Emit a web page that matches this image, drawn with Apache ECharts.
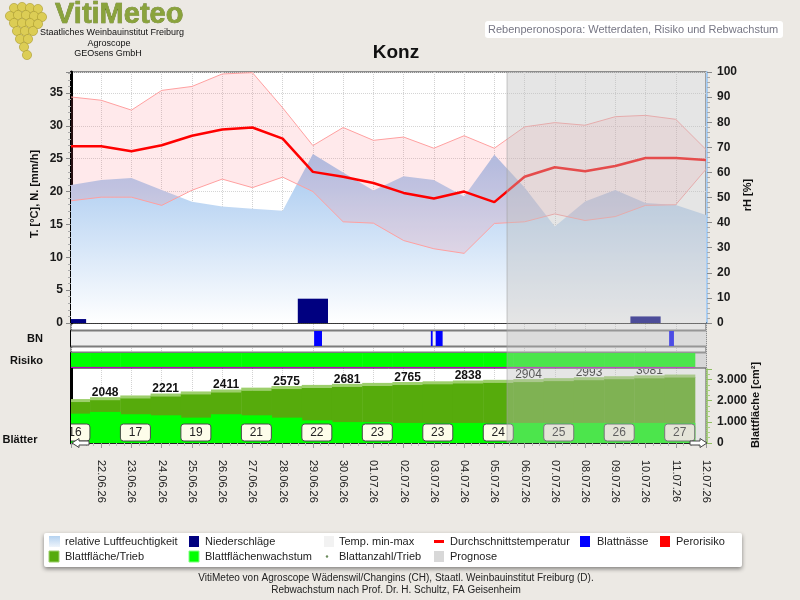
<!DOCTYPE html>
<html>
<head>
<meta charset="utf-8">
<title>Konz</title>
<script src="https://cdn.jsdelivr.net/npm/echarts@6/dist/echarts.min.js"></script>
<style>
html,body{margin:0;padding:0;background:#ece9e4;}
#chart{width:800px;height:600px;}
</style>
</head>
<body>
<div id="chart"></div>
<script>
// Tage 21.06.26 .. 12.07.26 (Index 0..21)
var dates = ['21.06.26','22.06.26','23.06.26','24.06.26','25.06.26','26.06.26','27.06.26','28.06.26','29.06.26','30.06.26',
             '01.07.26','02.07.26','03.07.26','04.07.26','05.07.26','06.07.26','07.07.26','08.07.26','09.07.26','10.07.26','11.07.26','12.07.26'];
// relative Luftfeuchtigkeit [%]
var rh    = [55, 57, 57.8, 53, 48.3, 46.4, 45.5, 44.7, 67.3, 60, 52.8, 58.5, 57, 50.4, 67, 54, 38.4, 48.4, 53, 47.8, 47, 43];
// Temperatur [°C]
var tMean = [26.9, 26.9, 26.15, 27.05, 28.5, 29.45, 29.75, 28.05, 23.0, 22.25, 21.3, 19.8, 18.95, 20.0, 18.4, 22.25, 23.7, 23.1, 23.9, 25.1, 25.1, 24.8];
var tMax  = [34.4, 33.9, 32.4, 35.4, 36.0, 37.9, 38.1, 32.75, 27.0, 29.75, 27.8, 28.3, 26.6, 28.5, 26.6, 29.85, 30.5, 30.1, 31.4, 31.6, 31.0, 26.4];
var tMin  = [18.6, 19.15, 19.15, 17.9, 20.2, 21.9, 20.6, 22.2, 20.0, 15.4, 15.2, 12.55, 11.3, 10.6, 15.15, 15.4, 16.6, 15.6, 16.2, 17.9, 18.0, 23.4];
// Niederschläge [mm/h]
var rain  = [0.6, 0, 0, 0, 0, 0, 0, 0, 3.7, 0, 0, 0, 0, 0, 0, 0, 0, 0, 0, 1.0, 0, 0];
// Blattnässe: Zeitraeume [von, bis] in Tagen
var bnIntervals = [[8.04, 8.30], [11.90, 11.96], [12.06, 12.29], [19.78, 19.94]];
// Perorisiko pro Tag (0 = kein Risiko)
var risk = [0, 0, 0, 0, 0, 0, 0, 0, 0, 0, 0, 0, 0, 0, 0, 0, 0, 0, 0, 0, 0];
// Blattfläche/Trieb [cm²] pro Tag
var leafArea = [1960, 2048, 2130, 2221, 2320, 2411, 2500, 2575, 2630, 2681, 2725, 2765, 2800, 2838, 2870, 2904, 2950, 2993, 3040, 3081, 3120];
// Blattflächenwachstum pro Tag
var leafGrowth = [139, 147, 136, 131, 120, 136, 131, 120, 107, 99, 99, 95, 95, 95, 95, 95, 95, 95, 95, 95, 95];
// Blattanzahl/Trieb
var leafCountDays = [0, 2, 4, 6, 8, 10, 12, 14, 16, 18, 20];
var leafCount     = [16, 17, 19, 21, 22, 23, 23, 24, 25, 26, 27];
// Beginn der Prognose (Tag)
var prognosisStart = 14.42;
var riskColors = ['#00ff00', '#ffff00', '#ff0000'];

var FONT = '"Liberation Sans", Arial, sans-serif';
var xMax = dates.length - 1;
// Tagesbalken: von Tag-0.37 bis Tag+0.63
var stepFrom = -0.37, stepTo = 0.63, stepMid = 0.13;

var chart = echarts.init(document.getElementById('chart'));

function pairs(arr){ return arr.map(function(v, i){ return [i, v]; }); }
function thousands(v){
    if (v < 1000) return String(v);
    var r = String(v % 1000);
    while (r.length < 3) r = '0' + r;
    return Math.floor(v / 1000) + '.' + r;
}
function xAx(gridIndex, extra){
    var a = {type:'value', gridIndex:gridIndex, min:0, max:xMax, interval:1,
        axisLabel:{show:false}, axisTick:{show:false}, axisLine:{show:false}, splitLine:{show:false}};
    for (var k in extra) a[k] = extra[k];
    return a;
}
function stripAxis(gridIndex){
    return {type:'value', gridIndex:gridIndex, min:0, max:1, position:'left',
        axisLine:{show:true, onZero:false, lineStyle:{color:'#000', width:3}},
        axisTick:{show:false}, axisLabel:{show:false}, splitLine:{show:false}};
}
function txt(x, y, text, font, fill, align, rot){
    return {type:'text', x:x, y:y, rotation:rot || 0, z:50,
        style:{text:text, font:font, fill:fill || '#222', align:align || 'left', textAlign:align || 'left',
               verticalAlign:'middle', textVerticalAlign:'middle'}};
}
function box(x, y, w, h, fill, extra){
    var s = {fill:fill};
    for (var k in extra) s[k] = extra[k];
    return {type:'rect', z:50, shape:{x:x, y:y, width:w, height:h}, style:s};
}

// Kopf, Achsentitel, Legende, Fusszeile
var graphics = [];
var grapes = [[14,8],[22,7],[30,8],[38,9],[10,16],[18,15],[26,15],[34,16],[42,17],[14,23],[22,23],[30,23],[38,24],
              [17,31],[25,31],[33,31],[20,39],[28,39],[24,47],[27,55]];
grapes.forEach(function(g){
    graphics.push({type:'circle', z:50, shape:{cx:g[0], cy:g[1], r:4.6},
        style:{fill:'#dccd55', stroke:'#a99a2c', lineWidth:0.6}});
});
graphics.push({type:'text', x:55, y:15, z:50, style:{text:'VitiMeteo', font:'bold 29px ' + FONT,
    fill:'#8aa33c', stroke:'#5c7020', lineWidth:0.6, align:'left', textAlign:'left', verticalAlign:'middle', textVerticalAlign:'middle'}});
graphics.push(txt(112, 33, 'Staatliches Weinbauinstitut Freiburg', '9px ' + FONT, '#111', 'center'));
graphics.push(txt(109, 43.5, 'Agroscope', '9px ' + FONT, '#111', 'center'));
graphics.push(txt(108, 53.5, 'GEOsens GmbH', '9px ' + FONT, '#111', 'center'));
graphics.push({type:'rect', z:50, shape:{x:485, y:21, width:298, height:17, r:3}, style:{fill:'#ffffff'}});
graphics.push(txt(488, 29.5, 'Rebenperonospora: Wetterdaten, Risiko und Rebwachstum', '11px ' + FONT, '#777785', 'left'));
graphics.push(txt(396, 53, 'Konz', 'bold 19px ' + FONT, '#111', 'center'));

graphics.push(txt(35, 194, 'T. [°C], N. [mm/h]', 'bold 11px ' + FONT, '#111', 'center', Math.PI / 2));
graphics.push(txt(748, 195, 'rH [%]', 'bold 11px ' + FONT, '#111', 'center', Math.PI / 2));
graphics.push(txt(756, 405, 'Blattfläche [cm²]', 'bold 11px ' + FONT, '#111', 'center', Math.PI / 2));
graphics.push(txt(35, 338.5, 'BN', 'bold 11px ' + FONT, '#111', 'center'));
graphics.push(txt(26.5, 360.5, 'Risiko', 'bold 11px ' + FONT, '#111', 'center'));
graphics.push(txt(20, 440, 'Blätter', 'bold 11px ' + FONT, '#111', 'center'));

// Pfeile an der Zeitachse
graphics.push({type:'polygon', z:60, shape:{points:[[72,443],[79,438.5],[79,441],[89,441],[89,445],[79,445],[79,447.5]]},
    style:{fill:'#ffffff', stroke:'#444', lineWidth:1}});
graphics.push({type:'polygon', z:60, shape:{points:[[707,443],[700,438.5],[700,441],[690,441],[690,445],[700,445],[700,447.5]]},
    style:{fill:'#ffffff', stroke:'#444', lineWidth:1}});

// Legende
graphics.push({type:'rect', z:40, shape:{x:44, y:533, width:698, height:34, r:2},
    style:{fill:'#ffffff', shadowBlur:4, shadowOffsetY:2, shadowColor:'rgba(0,0,0,0.45)'}});
var LF = '11px ' + FONT;
var rhIcon = new echarts.graphic.LinearGradient(0, 0, 0, 1, [{offset:0, color:'#b4d2f0'}, {offset:1, color:'#eef4fb'}]);
graphics.push(box(49, 536, 11, 11, rhIcon));
graphics.push(txt(65, 541.5, 'relative Luftfeuchtigkeit', LF));
graphics.push(box(189, 536, 10, 11, '#000080'));
graphics.push(txt(205, 541.5, 'Niederschläge', LF));
graphics.push(box(324, 536, 10, 11, '#f2f2f2'));
graphics.push(txt(339, 541.5, 'Temp. min-max', LF));
graphics.push(box(434, 540, 10, 3, '#ff0000'));
graphics.push(txt(450, 541.5, 'Durchschnittstemperatur', LF));
graphics.push(box(580, 536, 10, 11, '#0000ff'));
graphics.push(txt(597, 541.5, 'Blattnässe', LF));
graphics.push(box(660, 536, 10, 11, '#ff0000'));
graphics.push(txt(676, 541.5, 'Perorisiko', LF));
graphics.push(box(49, 551, 10, 11, '#56ab0c', {stroke:'#9dcf6c', lineWidth:1}));
graphics.push(txt(65, 556.5, 'Blattfläche/Trieb', LF));
graphics.push(box(189, 551, 10, 11, '#00ff00', {stroke:'#80ff80', lineWidth:1}));
graphics.push(txt(205, 556.5, 'Blattflächenwachstum', LF));
graphics.push({type:'circle', z:50, shape:{cx:327, cy:556.5, r:1.2}, style:{fill:'#6a8a5a'}});
graphics.push(txt(339, 556.5, 'Blattanzahl/Trieb', LF));
graphics.push(box(434, 551, 10, 11, '#d8d8d8'));
graphics.push(txt(450, 556.5, 'Prognose', LF));

graphics.push(txt(396, 578, 'VitiMeteo von Agroscope Wädenswil/Changins (CH), Staatl. Weinbauinstitut Freiburg (D).', '10px ' + FONT, '#222', 'center'));
graphics.push(txt(396, 590, 'Rebwachstum nach Prof. Dr. H. Schultz, FA Geisenheim', '10px ' + FONT, '#222', 'center'));

var axisLabelBold = {fontSize:12, fontWeight:'bold', color:'#1a1a1a', fontFamily:FONT};

var option = {
    animation: false,
    backgroundColor: '#ece9e4',
    textStyle: {fontFamily: FONT},
    grid: [
        {left:71, width:635, top:72, height:371, show:true, backgroundColor:'#ffffff', borderColor:'#8c8c8c', borderWidth:2, outerBoundsMode:'none'},
        {left:71, width:635, top:72, height:251, outerBoundsMode:'none'},
        {left:71, width:635, top:331, height:15, outerBoundsMode:'none'},
        {left:71, width:635, top:353, height:15, outerBoundsMode:'none'},
        {left:71, width:635, top:369, height:74, outerBoundsMode:'none'}
    ],
    xAxis: [
        xAx(0, {splitLine:{show:true, lineStyle:{color:'#d2d2d2', type:'dotted', width:1}}}),
        xAx(1, {axisLine:{show:true, onZero:false, lineStyle:{color:'#000', width:1.5}}}),
        xAx(2, {}),
        xAx(3, {}),
        xAx(4, {
            axisLine:{show:true, onZero:false, lineStyle:{color:'#000', width:1.5}},
            axisTick:{show:true, length:5, lineStyle:{color:'#999'}},
            minorTick:{show:true, splitNumber:4, length:3, lineStyle:{color:'#bbb'}},
            axisLabel:{show:true, rotate:-90, margin:17, fontSize:11, color:'#222', showMinLabel:false,
                formatter:function(v){ return dates[Math.round(v)]; }}
        })
    ],
    yAxis: [
        {type:'value', gridIndex:0, min:0, max:1, show:false},
        {type:'value', gridIndex:1, position:'left', min:0, max:38.2, interval:5,
            axisLine:{show:true, onZero:false, lineStyle:{color:'#000', width:3}},
            axisTick:{show:true, length:5, lineStyle:{color:'#888'}},
            minorTick:{show:true, splitNumber:5, length:3, lineStyle:{color:'#aaa'}},
            axisLabel:Object.assign({margin:8, showMaxLabel:false}, axisLabelBold),
            splitLine:{show:true, lineStyle:{color:'#d4d4d4', type:'dotted'}}},
        {type:'value', gridIndex:1, position:'right', offset:1, min:0, max:100, interval:10,
            axisLine:{show:true, onZero:false, lineStyle:{color:'#a9cdf2', width:2}},
            axisTick:{show:true, length:5, lineStyle:{color:'#888'}},
            minorTick:{show:true, splitNumber:5, length:3, lineStyle:{color:'#aaa'}},
            axisLabel:Object.assign({margin:10}, axisLabelBold),
            splitLine:{show:false}},
        stripAxis(2),
        stripAxis(3),
        {type:'value', gridIndex:4, position:'right', offset:1, min:0, max:3500, interval:1000,
            axisLine:{show:true, onZero:false, lineStyle:{color:'#8fc060', width:1.5}},
            axisTick:{show:true, length:5, lineStyle:{color:'#8fc060'}},
            minorTick:{show:true, splitNumber:4, length:3, lineStyle:{color:'#a8d080'}},
            axisLabel:Object.assign({margin:10, showMaxLabel:false, formatter:thousands}, axisLabelBold),
            splitLine:{show:false}},
        {type:'value', gridIndex:4, min:0, max:350, show:false},
        stripAxis(4)
    ],
    graphic: graphics,
    series: [
        // Prognose-Bereich über alle Panels
        {type:'custom', name:'Prognose', xAxisIndex:0, yAxisIndex:0, z:20, clip:true,
            data:[[prognosisStart, xMax]],
            renderItem:function(params, api){
                var p0 = api.coord([api.value(0), 1]);
                var p1 = api.coord([api.value(1), 0]);
                return {type:'group', children:[
                    {type:'rect', shape:{x:p0[0], y:p0[1], width:p1[0] - p0[0] + 1, height:p1[1] - p0[1]},
                        style:{fill:'rgba(190,190,190,0.4)'}},
                    {type:'line', shape:{x1:p0[0], y1:p0[1], x2:p0[0], y2:p1[1]},
                        style:{stroke:'rgba(160,160,160,0.6)', lineWidth:1}}
                ]};
            }},
        {type:'line', name:'relative Luftfeuchtigkeit', xAxisIndex:1, yAxisIndex:2, z:2,
            data:pairs(rh), symbol:'none', lineStyle:{width:0},
            areaStyle:{opacity:1, color:new echarts.graphic.LinearGradient(0, 0, 0, 1,
                [{offset:0, color:'#a4c7ef'}, {offset:1, color:'#ffffff'}])}},
        // Temperaturband min-max
        {type:'custom', name:'Temp. min-max', xAxisIndex:1, yAxisIndex:1, z:3, clip:true, data:[[0]],
            renderItem:function(params, api){
                var pts = [], i;
                for (i = 0; i < tMax.length; i++) pts.push(api.coord([i, tMax[i]]));
                for (i = tMin.length - 1; i >= 0; i--) pts.push(api.coord([i, tMin[i]]));
                return {type:'polygon', shape:{points:pts}, style:{fill:'rgba(255,110,120,0.15)'}};
            }},
        {type:'line', name:'Temp. min', xAxisIndex:1, yAxisIndex:1, z:3,
            data:pairs(tMin), symbol:'none', lineStyle:{color:'#ffa0a0', width:1}},
        {type:'line', name:'Temp. max', xAxisIndex:1, yAxisIndex:1, z:3,
            data:pairs(tMax), symbol:'none', lineStyle:{color:'#ffa0a0', width:1}},
        {type:'custom', name:'Niederschläge', xAxisIndex:1, yAxisIndex:1, z:4, clip:true, data:pairs(rain),
            renderItem:function(params, api){
                var d = api.value(0), v = api.value(1);
                if (!v) return null;
                var p0 = api.coord([d - 0.5, v]);
                var p1 = api.coord([d + 0.5, 0]);
                return {type:'rect', shape:{x:p0[0], y:p0[1], width:p1[0] - p0[0], height:p1[1] - p0[1]},
                    style:{fill:'#000080'}};
            }},
        {type:'line', name:'Durchschnittstemperatur', xAxisIndex:1, yAxisIndex:1, z:5,
            data:pairs(tMean), symbol:'none', lineStyle:{color:'#ff0000', width:2.5}},
        // Blattnässe-Streifen
        {type:'custom', xAxisIndex:2, yAxisIndex:3, z:2, data:[[0]],
            renderItem:function(params){
                var c = params.coordSys;
                return {type:'group', children:[
                    {type:'rect', shape:{x:c.x, y:c.y, width:c.width, height:c.height}, style:{fill:'#efefef'}},
                    {type:'line', shape:{x1:c.x, y1:c.y - 0.5, x2:c.x + c.width, y2:c.y - 0.5}, style:{stroke:'#7c7c7c', lineWidth:2}},
                    {type:'line', shape:{x1:c.x, y1:c.y + c.height + 0.5, x2:c.x + c.width, y2:c.y + c.height + 0.5}, style:{stroke:'#7c7c7c', lineWidth:2}}
                ]};
            }},
        {type:'custom', name:'Blattnässe', xAxisIndex:2, yAxisIndex:3, z:3, data:bnIntervals,
            renderItem:function(params, api){
                var p0 = api.coord([api.value(0), 1]);
                var p1 = api.coord([api.value(1), 0]);
                return {type:'rect', shape:{x:p0[0], y:p0[1], width:Math.max(1, p1[0] - p0[0]), height:p1[1] - p0[1]},
                    style:{fill:'#0000ff'}};
            }},
        // Risiko-Streifen
        {type:'custom', xAxisIndex:3, yAxisIndex:4, z:2, data:[[0]],
            renderItem:function(params){
                var c = params.coordSys;
                return {type:'group', children:[
                    {type:'rect', shape:{x:c.x, y:c.y, width:c.width, height:c.height}, style:{fill:'#e8e8e8'}},
                    {type:'line', shape:{x1:c.x, y1:c.y - 0.5, x2:c.x + c.width, y2:c.y - 0.5}, style:{stroke:'#7c7c7c', lineWidth:2}},
                    {type:'line', shape:{x1:c.x, y1:c.y + c.height, x2:c.x + c.width, y2:c.y + c.height}, style:{stroke:'#000', lineWidth:1}}
                ]};
            }},
        {type:'custom', name:'Perorisiko', xAxisIndex:3, yAxisIndex:4, z:3, clip:true, data:pairs(risk),
            renderItem:function(params, api){
                var d = api.value(0);
                var p0 = api.coord([d + stepFrom, 1]);
                var p1 = api.coord([d + stepTo, 0]);
                return {type:'group', children:[
                    {type:'rect', shape:{x:p0[0], y:p0[1], width:p1[0] - p0[0] + 0.5, height:p1[1] - p0[1]},
                        style:{fill:riskColors[api.value(1)]}},
                    {type:'line', shape:{x1:p0[0], y1:p1[1] - 0.5, x2:p1[0] + 0.5, y2:p1[1] - 0.5}, style:{stroke:'#c000c0', lineWidth:1.2}}
                ]};
            }},
        // Blattfläche/Trieb
        {type:'custom', name:'Blattfläche/Trieb', xAxisIndex:4, yAxisIndex:5, z:2, clip:true, data:pairs(leafArea),
            renderItem:function(params, api){
                var d = api.value(0), v = api.value(1);
                var p0 = api.coord([d + stepFrom, v]);
                var p1 = api.coord([d + stepTo, 0]);
                var w = p1[0] - p0[0] + 0.5;
                var ch = [
                    {type:'rect', shape:{x:p0[0], y:p0[1], width:w, height:p1[1] - p0[1]}, style:{fill:'#56ab0c'}},
                    {type:'rect', shape:{x:p0[0], y:p0[1] - 2.5, width:w, height:3}, style:{fill:'#9dcf6c'}}
                ];
                if (params.dataIndex % 2 === 1) {
                    var pc = api.coord([d + stepMid, v]);
                    ch.push({type:'text', x:pc[0], y:pc[1] - 7, style:{text:String(v),
                        font:(d > prognosisStart ? 'normal' : 'bold') + ' 12px ' + FONT, fill:'#111',
                        align:'center', textAlign:'center', verticalAlign:'middle', textVerticalAlign:'middle'}});
                }
                return {type:'group', children:ch};
            }},
        // Blattflächenwachstum
        {type:'custom', name:'Blattflächenwachstum', xAxisIndex:4, yAxisIndex:6, z:3, clip:true, data:pairs(leafGrowth),
            renderItem:function(params, api){
                var d = api.value(0), v = api.value(1);
                var p0 = api.coord([d + stepFrom, v]);
                var p1 = api.coord([d + stepTo, 0]);
                return {type:'rect', shape:{x:p0[0], y:p0[1], width:p1[0] - p0[0] + 0.5, height:p1[1] - p0[1]},
                    style:{fill:'#00ff00'}};
            }},
        // Blattanzahl/Trieb
        {type:'custom', name:'Blattanzahl/Trieb', xAxisIndex:4, yAxisIndex:5, z:4, clip:true,
            data:leafCountDays.map(function(d, k){ return [d, leafCount[k]]; }),
            renderItem:function(params, api){
                var pc = api.coord([api.value(0) + stepMid, 0]);
                return {type:'group', children:[
                    {type:'rect', shape:{x:pc[0] - 15, y:pc[1] - 19, width:30, height:17, r:3},
                        style:{fill:'#fdfdea', stroke:'#4a4a4a', lineWidth:1}},
                    {type:'text', x:pc[0], y:pc[1] - 10.5, style:{text:String(api.value(1)), font:'12px ' + FONT, fill:'#222',
                        align:'center', textAlign:'center', verticalAlign:'middle', textVerticalAlign:'middle'}}
                ]};
            }}
    ]
};

chart.setOption(option);
</script>
</body>
</html>
